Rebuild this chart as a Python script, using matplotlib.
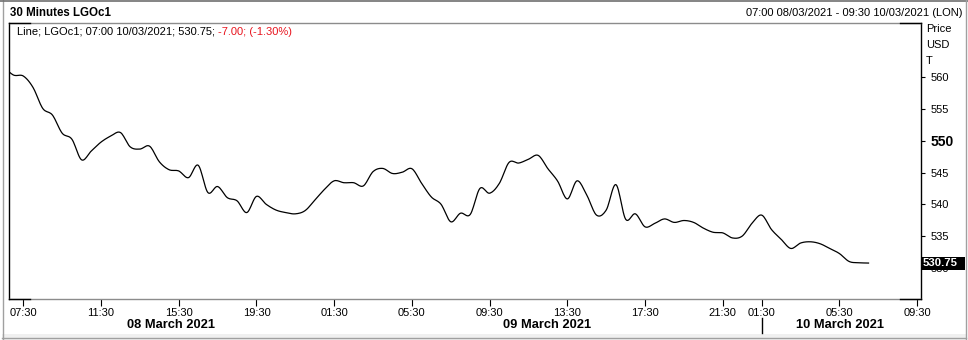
import numpy as np
import pandas as pd
import matplotlib
matplotlib.use("Agg")
import matplotlib.pyplot as plt
import matplotlib.transforms as mtransforms
from matplotlib.patches import Rectangle
from matplotlib.lines import Line2D

plt.rcParams['font.family'] = ['Liberation Sans', 'DejaVu Sans']

# ---------------- data ----------------
title = "30 Minutes LGOc1"
range_text = "07:00 08/03/2021 - 09:30 10/03/2021 (LON)"
legend_black = "Line; LGOc1; 07:00 10/03/2021; 530.75; "
legend_red = "-7.00; (-1.30%)"
last_value = 530.75
session_days = ['2021-03-08', '2021-03-09', '2021-03-10']
session_open = '01:00'
session_last_bar = '22:30'
series_start = '2021-03-08 06:30'
axis_end = '2021-03-10 09:30'

# 30-minute closes from 08/03 06:30 to 10/03 07:00 (trading bars only)
values = [
    561.6, 560.35, 560.2, 558.4, 555.1, 554.05, 551.2, 550.25, 547.0, 548.4,
    549.8, 550.75, 551.3, 549.05, 548.7, 549.15, 546.7, 545.45, 545.25, 544.2,
    546.15, 541.85, 542.8, 541.05, 540.55, 538.7, 541.25, 540.0, 539.1, 538.7,
    538.5, 539.0, 540.65, 542.35, 543.7, 543.4, 543.4, 542.9, 545.15, 545.65,
    544.85, 545.05, 545.6, 543.3, 541.15, 540.0, 537.25, 538.6, 538.4, 542.5,
    541.75, 543.3, 546.6, 546.5, 547.1, 547.7, 545.6, 543.65, 540.85, 543.7,
    541.45, 538.3, 539.1, 543.1, 537.65, 538.5, 536.45, 537.0, 537.7, 537.15,
    537.45, 537.15, 536.25, 535.6, 535.5, 534.7, 535.0, 537.0, 538.3, 536.05,
    534.5, 533.05, 533.9, 534.1, 533.8, 533.05, 532.25, 531.0, 530.8, 530.75,
]

tick_times = [
    '2021-03-08 07:30', '2021-03-08 11:30', '2021-03-08 15:30', '2021-03-08 19:30',
    '2021-03-09 01:30', '2021-03-09 05:30', '2021-03-09 09:30', '2021-03-09 13:30',
    '2021-03-09 17:30', '2021-03-09 21:30', '2021-03-10 01:30', '2021-03-10 05:30',
    '2021-03-10 09:30',
]
y_ticks = [530, 535, 540, 545, 550, 555, 560]
day_labels = ['08 March 2021', '09 March 2021', '10 March 2021']

# ---------------- bar index axis ----------------
bars = []
for d in session_days:
    bars.extend(pd.date_range(f"{d} {session_open}", f"{d} {session_last_bar}", freq='30min'))
bars = pd.DatetimeIndex(bars)
bars = bars[(bars >= pd.Timestamp(series_start)) & (bars <= pd.Timestamp(axis_end))]
pos_of = {t: i for i, t in enumerate(bars)}

x = np.arange(len(values), dtype=float)
y = np.array(values, dtype=float)


def catmull_rom(xp, yp, n=12):
    P = np.column_stack([xp, yp])
    P = np.vstack([2 * P[0] - P[1], P, 2 * P[-1] - P[-2]])
    t = np.linspace(0, 1, n, endpoint=False)[:, None]
    out = []
    for i in range(1, len(P) - 2):
        p0, p1, p2, p3 = P[i - 1], P[i], P[i + 1], P[i + 2]
        seg = 0.5 * (2 * p1 + (-p0 + p2) * t + (2 * p0 - 5 * p1 + 4 * p2 - p3) * t ** 2
                     + (-p0 + 3 * p1 - 3 * p2 + p3) * t ** 3)
        out.append(seg)
    out.append(P[-2][None, :])
    out = np.vstack(out)
    return out[:, 0], out[:, 1]


sx, sy = catmull_rom(x, y)

# ---------------- figure ----------------
W, H = 968, 340
fig = plt.figure(figsize=(W / 100, H / 100), dpi=100)
fig.patch.set_facecolor('white')

L, R, T, B = 9, 920.7, 23, 299
ax = fig.add_axes([L / W, 1 - B / H, (R - L) / W, (B - T) / H])
ax.set_facecolor('white')

ax.plot(sx, sy, color='black', lw=0.9, solid_joinstyle='round')

ax.set_xlim(0.527, 94.37)
ax.set_ylim(525.09, 568.55)

# spines
for s in ['left', 'right']:
    ax.spines[s].set_color('black')
    ax.spines[s].set_linewidth(1.0)
for s in ['top', 'bottom']:
    ax.spines[s].set_color('#8c8c8c')
    ax.spines[s].set_linewidth(1.0)
# black corner marks
for (x0, x1, yy) in [(0, 21 / (R - L), 0), (1 - 21 / (R - L), 1, 0),
                     (0, 21 / (R - L), 1), (1 - 21 / (R - L), 1, 1)]:
    ax.add_line(Line2D([x0, x1], [yy, yy], transform=ax.transAxes, color='black',
                       lw=1.0, clip_on=False, zorder=5))

# y axis on right
ax.yaxis.tick_right()
ax.set_yticks(y_ticks)
ax.set_yticklabels([str(v) for v in y_ticks])
ax.tick_params(axis='y', direction='out', length=3, width=0.8, pad=4,
               labelsize=8, colors='black')
for lab in ax.get_yticklabels():
    if lab.get_text() == '550':
        lab.set_fontweight('bold')
        lab.set_fontsize(10)

# x axis
tick_pos = [pos_of[pd.Timestamp(t)] for t in tick_times]
ax.set_xticks(tick_pos)
ax.set_xticklabels([pd.Timestamp(t).strftime('%H:%M') for t in tick_times])
ax.tick_params(axis='x', direction='out', length=5, width=0.8, pad=1.5,
               labelsize=8, colors='black')

# last value box on the right axis
trans_box = mtransforms.blended_transform_factory(ax.transAxes, ax.transData)
box_w = 44.5 / (R - L)
box_h = 13 / 6.35
fig.add_artist(Rectangle((1.0, last_value - box_h / 2), box_w, box_h, transform=trans_box,
                         facecolor='black', edgecolor='none', clip_on=False, zorder=10))
fig.add_artist(plt.Text(1.0 + 1.5 / (R - L), last_value, f"{last_value:.2f}", transform=trans_box,
                        color='white', fontsize=8.2, fontweight='bold', ha='left', va='center',
                        zorder=11))

# header texts
fig.text(10 / W, 1 - 12.5 / H, title, fontsize=8.3, fontweight='bold', ha='left', va='center')
fig.text(963 / W, 1 - 12.5 / H, range_text, fontsize=8, ha='right', va='center')
t1 = fig.text(17 / W, 1 - 32 / H, legend_black, fontsize=8, ha='left', va='center', color='black')
fig.canvas.draw()
bb = t1.get_window_extent()
fig.text(bb.x1 / W, 1 - 32 / H, legend_red, fontsize=8, ha='left', va='center', color='#e8141e')

# unit labels above price axis
for txt, yy in [('Price', 29), ('USD', 45), ('T', 61)]:
    fig.text(926 / W, 1 - yy / H, txt, fontsize=8, ha='left', va='center', color='black')

# day labels
trans_day = mtransforms.blended_transform_factory(ax.transData, fig.transFigure)
day_pos = [17.2, 55.9, 86.06]
for lbl, p in zip(day_labels, day_pos):
    fig.text(p, 1 - 325.5 / H, lbl, transform=trans_day, fontsize=9.3, fontweight='bold',
             ha='center', va='center')
sep = pos_of[pd.Timestamp('2021-03-10 01:30')]
fig.add_artist(Line2D([sep, sep], [1 - 318 / H, 1 - 333 / H], transform=trans_day,
                      color='black', lw=1.0))

# outer window frame
fig.add_artist(Rectangle((2 / W, 0), 964 / W, 6 / H, transform=fig.transFigure,
                         facecolor='#f0f0f0', edgecolor='none', zorder=-1))
fig.add_artist(Line2D([2 / W, 966 / W], [1 - 338 / H, 1 - 338 / H], transform=fig.transFigure,
                      color='#a0a0a0', lw=1.0))
fig.add_artist(Line2D([2.5 / W, 2.5 / W], [0, 1], transform=fig.transFigure,
                      color='#a0a0a0', lw=1.0))
fig.add_artist(Line2D([0, 1], [1 - 0.8 / H, 1 - 0.8 / H], transform=fig.transFigure,
                      color='#707070', lw=1.2))
fig.add_artist(Line2D([966 / W, 966 / W], [0, 1], transform=fig.transFigure,
                      color='#a0a0a0', lw=1.0))

fig.savefig('out.png', dpi=100, facecolor='white')
